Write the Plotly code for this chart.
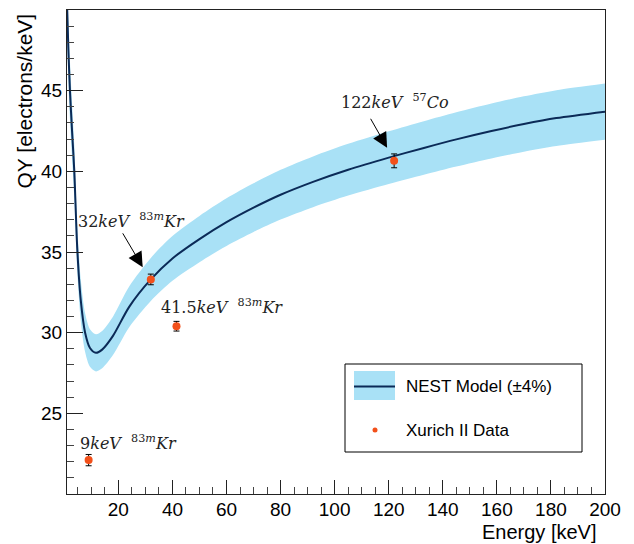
import plotly.graph_objects as go

# ---------------- data ----------------
energy_model = [1.0, 1.5, 2.1, 2.9, 3.7, 4.8, 6.1, 7.7, 9.5, 11.7, 14, 18, 24, 32,
                40, 50, 60, 70, 80, 92, 105, 120, 133, 145, 158, 170, 182, 200]
qy_model = [50.4, 47.6, 45.0, 42.4, 40.0, 35.2, 32.0, 30.0, 29.05, 28.75, 28.95, 29.8,
            31.6, 33.3, 34.6, 35.8, 36.85, 37.75, 38.55, 39.35, 40.1, 40.85, 41.45,
            41.98, 42.5, 42.93, 43.3, 43.7]
band_fraction = 0.04

data_energy = [9, 32, 41.5, 122]
data_qy = [22.1, 33.3, 30.4, 40.65]
data_err = [0.35, 0.33, 0.30, 0.43]

x_ticks = [20, 40, 60, 80, 100, 120, 140, 160, 180, 200]
y_ticks = [25, 30, 35, 40, 45]

label_texts = [
    "122<i>keV</i>&nbsp;&nbsp;<sup>57</sup><i>Co</i>",
    "32<i>keV</i>&nbsp;&nbsp;<sup>83<i>m</i></sup><i>Kr</i>",
    "41.5<i>keV</i>&nbsp;&nbsp;<sup>83<i>m</i></sup><i>Kr</i>",
    "9<i>keV</i>&nbsp;&nbsp;<sup>83<i>m</i></sup><i>Kr</i>",
]
label_x = [122.5, 25.0, 58.4, 23.8]
label_y = [44.3, 36.95, 31.65, 23.2]

arrow_tail_x = [113.0, 21.3]
arrow_tail_y = [43.35, 36.25]
arrow_tip_x = [119.4, 29.0]
arrow_tip_y = [41.46, 34.06]

legend_labels = ["NEST Model (\u00b14%)", "Xurich II Data"]

# ---------------- styles ----------------
BAND = "#a9e1f6"
LINE = "#0b2a57"
MARK = "#f2501a"
SANS = "Liberation Sans, Arial, Helvetica, sans-serif"
SERIF = "DejaVu Serif, Liberation Serif, serif"

W, H = 634, 544
ML, MR, MT, MB = 67, 29, 10, 50
PW, PH = W - ML - MR, H - MT - MB


def px(xp):
    return (xp - ML) / PW


def py(yp):
    return (H - MB - yp) / PH


lower = [q * (1 - band_fraction) for q in qy_model]
upper = [q * (1 + band_fraction) for q in qy_model]

SPL = dict(shape="spline", smoothing=0.8)

fig = go.Figure()
fig.add_trace(go.Scatter(x=energy_model, y=lower, mode="lines",
                         line=dict(width=0, color=BAND, **SPL),
                         showlegend=False, hoverinfo="skip"))
fig.add_trace(go.Scatter(x=energy_model, y=upper, mode="lines", fill="tonexty",
                         fillcolor=BAND,
                         line=dict(width=0, color=BAND, **SPL),
                         showlegend=False, hoverinfo="skip"))
fig.add_trace(go.Scatter(x=energy_model, y=qy_model, mode="lines",
                         line=dict(width=2, color=LINE, **SPL),
                         name=legend_labels[0], showlegend=False))
fig.add_trace(go.Scatter(x=data_energy, y=data_qy, mode="markers",
                         marker=dict(size=8, color=MARK),
                         error_y=dict(type="data", array=data_err, color="black",
                                      thickness=1, width=3),
                         name=legend_labels[1], showlegend=False))

annotations = []
for t, x, y in zip(label_texts, label_x, label_y):
    annotations.append(dict(x=x, y=y, xref="x", yref="y", text=t, showarrow=False,
                            font=dict(family=SERIF, size=16, color="#222"),
                            xanchor="center", yanchor="middle"))
for tx, ty, hx, hy in zip(arrow_tail_x, arrow_tail_y, arrow_tip_x, arrow_tip_y):
    annotations.append(dict(x=hx, y=hy, ax=tx, ay=ty, xref="x", yref="y",
                            axref="x", ayref="y", text="", showarrow=True,
                            arrowhead=2, arrowsize=3, arrowwidth=1,
                            arrowcolor="black", standoff=0))

# axis titles
annotations.append(dict(x=px(24), y=py(12), xref="paper", yref="paper",
                        text="QY [electrons/keV]", textangle=-90, showarrow=False,
                        xanchor="center", yanchor="top",
                        font=dict(family=SANS, size=21, color="black")))
annotations.append(dict(x=px(598), y=py(531.5), xref="paper", yref="paper",
                        text="Energy [keV]", showarrow=False, borderpad=0,
                        xanchor="right", yanchor="middle",
                        font=dict(family=SANS, size=20, color="black")))

# legend text
annotations.append(dict(x=px(404), y=py(386.5), xref="paper", yref="paper",
                        text=legend_labels[0], showarrow=False,
                        xanchor="left", yanchor="middle",
                        font=dict(family=SANS, size=17, color="black")))
annotations.append(dict(x=px(404), y=py(430), xref="paper", yref="paper",
                        text=legend_labels[1], showarrow=False,
                        xanchor="left", yanchor="middle",
                        font=dict(family=SANS, size=17, color="black")))

shapes = [
    dict(type="rect", xref="paper", yref="paper", x0=px(345), x1=px(582),
         y0=py(452), y1=py(364), line=dict(color="black", width=1),
         fillcolor="white", layer="above"),
    dict(type="rect", xref="paper", yref="paper", x0=px(354), x1=px(395),
         y0=py(400), y1=py(371), line=dict(width=0), fillcolor=BAND, layer="above"),
    dict(type="line", xref="paper", yref="paper", x0=px(354), x1=px(395),
         y0=py(386.5), y1=py(386.5), line=dict(color=LINE, width=2), layer="above"),
    dict(type="circle", xref="paper", yref="paper", x0=px(372.5), x1=px(377.5),
         y0=py(432.5), y1=py(427.5), line=dict(width=0), fillcolor=MARK, layer="above"),
]

fig.update_layout(
    width=W, height=H,
    margin=dict(l=ML, r=MR, t=MT, b=MB, pad=0),
    paper_bgcolor="white", plot_bgcolor="white",
    showlegend=False,
    annotations=annotations, shapes=shapes,
    font=dict(family=SANS, size=19, color="black"),
)
fig.update_xaxes(range=[1, 200], tickmode="array", tickvals=x_ticks,
                 ticks="inside", ticklen=14, tickwidth=1, tickcolor="#222",
                 showline=True, linecolor="#222", linewidth=1, mirror=True,
                 showgrid=False, zeroline=False, ticklabelstandoff=-2,
                 tickfont=dict(family=SANS, size=19, color="black"),
                 minor=dict(tickmode="linear", tick0=0, dtick=5, ticks="inside",
                            ticklen=7, tickcolor="#444", showgrid=False))
fig.update_yaxes(range=[20, 50], tickmode="array", tickvals=y_ticks,
                 ticks="inside", ticklen=16, tickwidth=1, tickcolor="#222",
                 showline=True, linecolor="#222", linewidth=1, mirror=True,
                 showgrid=False, zeroline=False,
                 tickfont=dict(family=SANS, size=19, color="black"),
                 minor=dict(tickmode="linear", tick0=0, dtick=1, ticks="inside",
                            ticklen=7, tickcolor="#444", showgrid=False))

fig.write_html("out.html")
